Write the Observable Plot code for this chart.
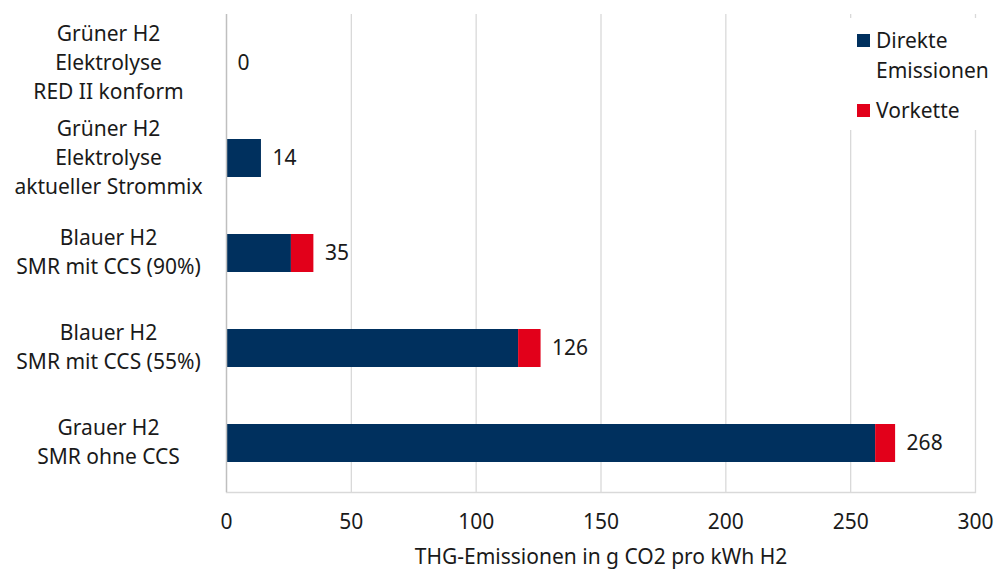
<!DOCTYPE html>
<html>
<head>
<meta charset="utf-8">
<script src="https://cdn.jsdelivr.net/npm/d3@7"></script>
<script src="https://cdn.jsdelivr.net/npm/@observablehq/plot@0.6"></script>
<style>
  body { margin: 0; background: #fff; font-family: "Noto Sans", sans-serif; }
  #wrap { position: relative; width: 997px; height: 570px; }
  #legend { position: absolute; left: 842px; top: 18px; width: 152px; height: 112px; background: #fff;
            font-size: 21px; color: #1a1a1a; line-height: 30px; }
  .item { position: absolute; left: 15px; display: flex; }
  .sw { width: 13px; height: 13px; margin-top: 9px; margin-right: 6px; flex: none; }
</style>
</head>
<body>
<div id="wrap"></div>
<script>
const categories = [
  "Grüner H2\nElektrolyse\nRED II konform",
  "Grüner H2\nElektrolyse\naktueller Strommix",
  "Blauer H2\nSMR mit CCS (90%)",
  "Blauer H2\nSMR mit CCS (55%)",
  "Grauer H2\nSMR ohne CCS"
];
const direkt = [0, 14, 26, 117, 260];
const vorkette = [0, 0, 9, 9, 8];
const totals = [0, 14, 35, 126, 268];
const series = ["Direkte Emissionen", "Vorkette"];
const colors = ["#00305e", "#e2001a"];
const xTicks = [0, 50, 100, 150, 200, 250, 300];

const rows = [];
categories.forEach((c, i) => {
  rows.push({cat: c, series: series[0], value: direkt[i]});
  rows.push({cat: c, series: series[1], value: vorkette[i]});
});
const totalRows = categories.map((c, i) => ({cat: c, total: totals[i]}));

const chart = Plot.plot({
  width: 997,
  height: 570,
  marginLeft: 226,
  marginRight: 22,
  marginTop: 14,
  marginBottom: 78,
  style: {fontFamily: "Noto Sans, sans-serif", fontSize: "21px", color: "#1a1a1a", background: "#fff"},
  x: {domain: [0, 300], ticks: xTicks},
  y: {domain: categories, paddingInner: 0.6, paddingOuter: 0.3, label: null},
  color: {domain: series, range: colors},
  marks: [
    Plot.ruleX(xTicks.filter(d => d > 0), {stroke: "#d9d9d9", strokeWidth: 1.3}),
    Plot.frame({anchor: "bottom", stroke: "#d9d9d9", strokeWidth: 1.3}),
    Plot.barX(rows, Plot.stackX({y: "cat", x: "value", fill: "series", order: series})),
    Plot.ruleX([0], {stroke: "#bfbfbf", strokeWidth: 1.5}),
    Plot.text(totalRows, {y: "cat", x: "total", text: d => String(d.total), dx: 11, textAnchor: "start", fontSize: 21, fill: "#1a1a1a"}),
    Plot.text(categories, {y: d => d, x: 0, text: d => d, dx: -118, dy: -3, textAnchor: "middle", lineHeight: 1.38, fontSize: 21, fill: "#1a1a1a"}),
    Plot.axisX({ticks: xTicks, tickSize: 0, tickPadding: 22, fontSize: 21, label: "THG-Emissionen in g CO2 pro kWh H2", labelAnchor: "center", labelArrow: "none", labelOffset: 71}),
    Plot.axisY({ticks: [], label: null})
  ]
});
document.getElementById("wrap").appendChild(chart);

const legend = document.createElement("div");
legend.id = "legend";
legend.innerHTML =
  `<div class="item" style="top:7px"><div class="sw" style="background:${colors[0]}"></div><div>Direkte<br>Emissionen</div></div>` +
  `<div class="item" style="top:77px"><div class="sw" style="background:${colors[1]}"></div><div>Vorkette</div></div>`;
document.getElementById("wrap").appendChild(legend);
</script>
</body>
</html>
